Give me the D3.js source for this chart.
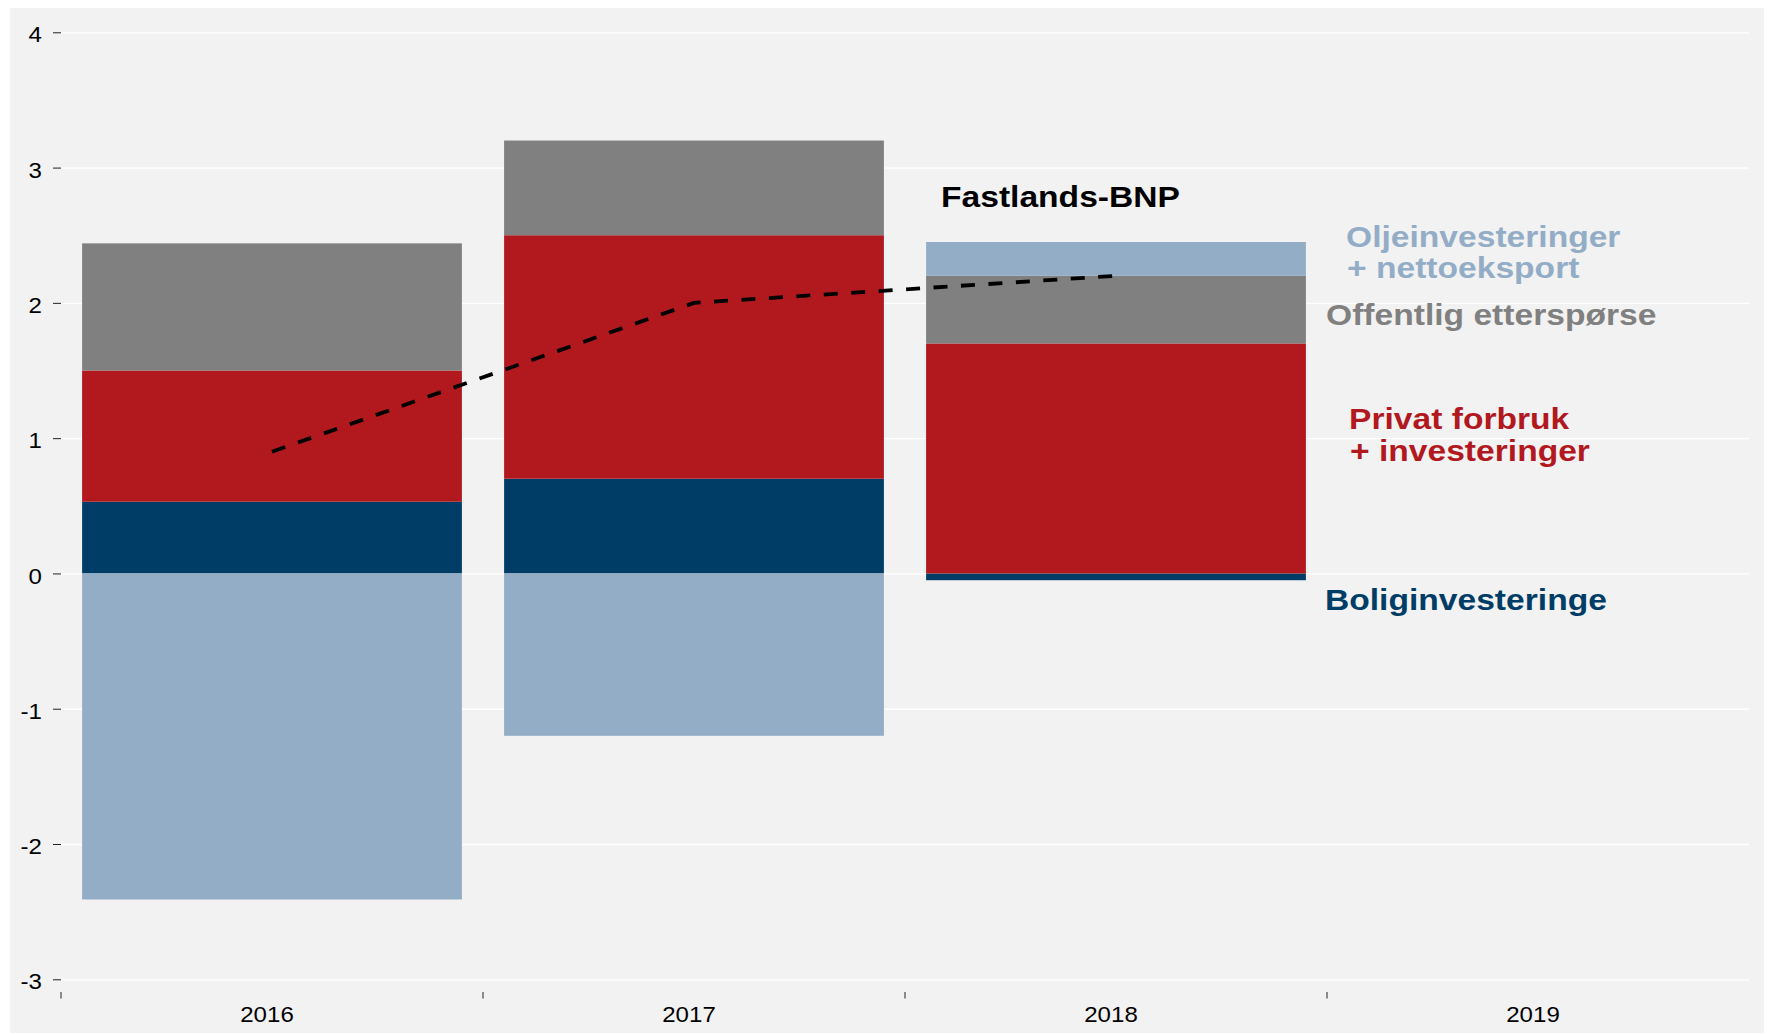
<!DOCTYPE html>
<html>
<head>
    <meta charset="utf-8">
    <script src="https://d3js.org/d3.v7.min.js"></script>
    <style>
        body {
            margin: 0;
            background: #ffffff;
        }
        .gridlines line {
            stroke: #ffffff;
            stroke-width: 1.3;
        }
        .gridlines .domain {
            stroke: none;
        }
        .axis text {
            font-family: "Liberation Sans", Arial, Helvetica, sans-serif;
            font-size: 21.5px;
            fill: #000;
        }
        .axis line {
            stroke: #222;
        }
        .axis .domain {
            stroke: none;
        }
        .note {
            font-family: "Liberation Sans", Arial, Helvetica, sans-serif;
            font-weight: bold;
            font-size: 30px;
        }
    </style>
</head>
<body>
    <svg id="chart" width="1773" height="1035"></svg>
    <script>
        // data (prosentpoeng bidrag til vekst i Fastlands-BNP)
        const years = ["2016", "2017", "2018", "2019"];
        const boliginv = [0.53, 0.70, -0.05, null];
        const privat = [0.97, 1.80, 1.70, null];
        const offentlig = [0.94, 0.70, 0.50, null];
        const oljeNetto = [-2.41, -1.20, 0.25, null];
        const fastlandsBnp = [0.90, 2.00, 2.20, null];
        const yTicks = [-3, -2, -1, 0, 1, 2, 3, 4];

        const keys = ["boliginv", "privat", "offentlig", "oljeNetto"];
        const colors = {
            boliginv: "#003d66",
            privat: "#b2191f",
            offentlig: "#808080",
            oljeNetto: "#93adc7"
        };

        const table = years.map((y, i) => ({
            year: y,
            boliginv: boliginv[i],
            privat: privat[i],
            offentlig: offentlig[i],
            oljeNetto: oljeNetto[i],
            bnp: fastlandsBnp[i]
        }));

        const sx = 1.12; // the original text is slightly stretched sideways

        const svg = d3.select("svg#chart");
        const width = +svg.attr("width");
        const height = +svg.attr("height");

        // panel background
        svg.append("rect")
            .attr("x", 10).attr("y", 8)
            .attr("width", width - 19).attr("height", height - 10)
            .attr("fill", "#f2f2f2");

        const plotLeft = 61, plotRight = 1749;
        const yScale = d3.scaleLinear().domain([-3, 4]).range([979.3, 32.3]);
        const xOuter = d3.scaleBand().domain(years).range([plotLeft, plotRight]).padding(0);
        const xScale = d3.scaleBand().domain(years).range([plotLeft, plotRight])
            .paddingInner(0.1).paddingOuter(0.05);

        // gridlines
        svg.append("g")
            .attr("class", "gridlines")
            .attr("transform", `translate(${plotLeft},0)`)
            .call(d3.axisLeft(yScale).tickValues(yTicks).tickSize(-(plotRight - plotLeft)).tickFormat(""));

        // stacked bars
        const series = d3.stack()
            .keys(keys)
            .value((d, k) => d[k] == null ? 0 : d[k])
            .offset(d3.stackOffsetDiverging)(table);

        const layers = svg.append("g").selectAll("g")
            .data(series).join("g")
            .attr("fill", d => colors[d.key]);

        layers.selectAll("rect")
            .data(d => d.filter(p => p[1] !== p[0]))
            .join("rect")
            .attr("x", d => xScale(d.data.year))
            .attr("width", xScale.bandwidth())
            .attr("y", d => yScale(Math.max(d[0], d[1])))
            .attr("height", d => Math.abs(yScale(d[0]) - yScale(d[1])));

        // Fastlands-BNP line
        const line = d3.line()
            .defined(d => d.bnp != null)
            .x(d => xScale(d.year) + xScale.bandwidth() / 2)
            .y(d => yScale(d.bnp));

        svg.append("path")
            .datum(table)
            .attr("fill", "none")
            .attr("stroke", "#000")
            .attr("stroke-width", 3.8)
            .attr("stroke-dasharray", "14,13.5")
            .attr("d", line);

        // y axis (plain hyphen for negatives, as in the original)
        const yAxis = svg.append("g")
            .attr("class", "axis")
            .attr("transform", `translate(${plotLeft},0)`)
            .call(d3.axisLeft(yScale).tickValues(yTicks).tickFormat(d => String(d))
                .tickSize(8).tickPadding(11));
        yAxis.selectAll("text")
            .attr("x", 0)
            .attr("dy", "0.45em")
            .attr("transform", `translate(-19,0) scale(${sx},1)`);

        // x axis: labels in the middle of each year, ticks at the year boundaries
        const axisY = 991;
        const xAxis = svg.append("g")
            .attr("class", "axis")
            .attr("transform", `translate(0,${axisY})`)
            .call(d3.axisBottom(xScale).tickSize(0).tickPadding(15.7));
        xAxis.selectAll("text").attr("transform", `translate(-5,0) scale(${sx},1)`);

        svg.append("g")
            .attr("class", "axis")
            .selectAll("line")
            .data(years).join("line")
            .attr("x1", d => xOuter(d)).attr("x2", d => xOuter(d))
            .attr("y1", axisY + 1).attr("y2", axisY + 7.5);

        // annotations
        const notes = [
            { text: "Fastlands-BNP", color: "#000000", x: 941, y: 206.7 },
            { text: "Oljeinvesteringer", color: colors.oljeNetto, x: 1346, y: 246.7 },
            { text: "+ nettoeksport", color: colors.oljeNetto, x: 1347, y: 278 },
            { text: "Offentlig etterspørse", color: colors.offentlig, x: 1326, y: 325 },
            { text: "Privat forbruk", color: colors.privat, x: 1349, y: 429 },
            { text: "+ investeringer", color: colors.privat, x: 1350, y: 461 },
            { text: "Boliginvesteringe", color: colors.boliginv, x: 1325, y: 610 }
        ];

        svg.append("g").selectAll("text")
            .data(notes).join("text")
            .attr("class", "note")
            .attr("transform", d => `translate(${d.x},${d.y}) scale(${sx},1)`)
            .attr("fill", d => d.color)
            .text(d => d.text);
    </script>
</body>
</html>
